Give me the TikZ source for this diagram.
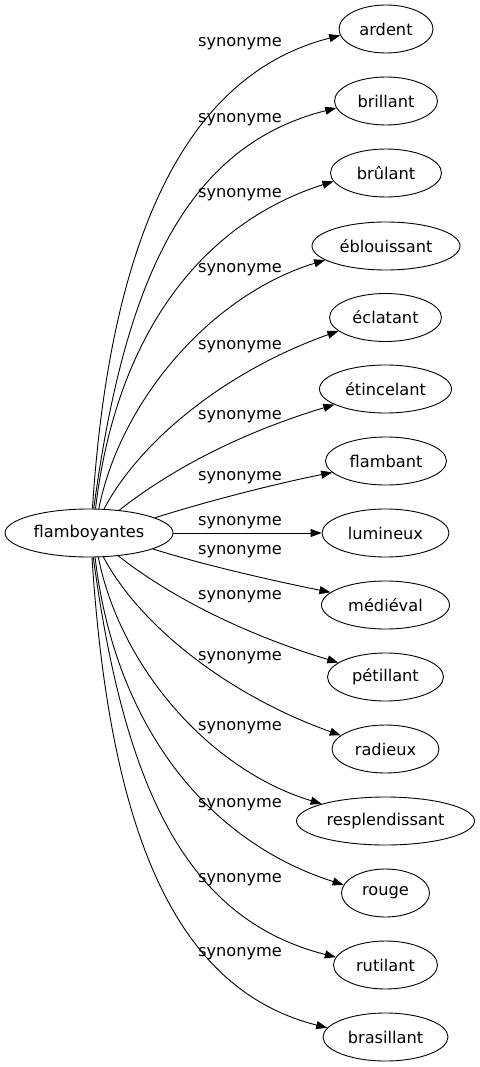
\documentclass[tikz,border=0pt]{standalone}
\usepackage{fontspec}
\setmainfont{DejaVu Sans}
\usetikzlibrary{shapes.geometric,arrows.meta}
\begin{document}
\begin{tikzpicture}[x=1pt,y=-1pt,
  every node/.style={font=\fontsize{16.2}{19}\selectfont},
  term/.style={ellipse, draw, line width=0.9pt, minimum height=48pt, inner sep=0pt},
  lbl/.style={inner sep=0pt},
  syn/.style={draw, line width=0.9pt, -{Triangle[length=11pt,width=8pt]}}]
\useasboundingbox (0,0) rectangle (479,1067);
% nodes
\node[term, minimum width=168pt] (flam) at (89,533) {flamboyantes};
\node[term, minimum width=94pt]  (n1)  at (386,29)   {ardent};
\node[term, minimum width=103pt] (n2)  at (386,101)  {brillant};
\node[term, minimum width=111pt] (n3)  at (386,173)  {brûlant};
\node[term, minimum width=148pt] (n4)  at (386,246)  {éblouissant};
\node[term, minimum width=112pt] (n5)  at (385.5,317.5) {éclatant};
\node[term, minimum width=132pt] (n6)  at (385.5,389) {étincelant};
\node[term, minimum width=121pt] (n7)  at (386,461)  {flambant};
\node[term, minimum width=127pt] (n8)  at (385.5,533) {lumineux};
\node[term, minimum width=128pt] (n9)  at (385.5,605) {médiéval};
\node[term, minimum width=116pt] (n10) at (385.5,677) {pétillant};
\node[term, minimum width=107pt] (n11) at (385.5,749) {radieux};
\node[term, minimum width=178pt] (n12) at (385.5,821) {resplendissant};
\node[term, minimum width=88pt]  (n13) at (385.5,893) {rouge};
\node[term, minimum width=104pt] (n14) at (385.5,965) {rutilant};
\node[term, minimum width=125pt] (n15) at (385.5,1037) {brasillant};
% labels
\node[lbl] (l1)  at (240,44)  {synonyme};
\node[lbl] (l2)  at (240,120) {synonyme};
\node[lbl] (l3)  at (240,195) {synonyme};
\node[lbl] (l4)  at (240,270) {synonyme};
\node[lbl] (l5)  at (240,347) {synonyme};
\node[lbl] (l6)  at (240,417) {synonyme};
\node[lbl] (l7)  at (240,478) {synonyme};
\node[lbl] (l8)  at (240,523) {synonyme};
\node[lbl] (l9)  at (240,552) {synonyme};
\node[lbl] (l10) at (240,597) {synonyme};
\node[lbl] (l11) at (240,658) {synonyme};
\node[lbl] (l12) at (240,728) {synonyme};
\node[lbl] (l13) at (240,805) {synonyme};
\node[lbl] (l14) at (240,880) {synonyme};
\node[lbl] (l15) at (240,954) {synonyme};
% edges (upper)
\draw[syn] (flam.82.7) .. controls +(18,-280) and +(-150,38) .. (n1.188.5);
\draw[syn] (flam.79.2) .. controls +(31,-230) and +(-150,38) .. (n2.188);
\draw[syn] (flam.75.7) .. controls +(20,-170) and +(-135,43) .. (n3.189);
\draw[syn] (flam.68.9) .. controls +(22,-110) and +(-112,34) .. (n4.193.7);
\draw[syn] (flam.58.9) .. controls +(37,-70) and +(-110,39) .. (n5.196);
\draw[syn] (flam.37.2) .. controls +(52,-41) and +(-93,28) .. (n6.197);
\draw[syn] (flam.13.4) .. controls +(47,-15) and +(-60,12) .. (n7.192.8);
% middle
\draw[syn] (flam.0) -- (n8.180);
% edges (lower)
\draw[syn] (flam.346.6) .. controls +(47,15) and +(-60,-12) .. (n9.167.5);
\draw[syn] (flam.322.8) .. controls +(52,41) and +(-93,-28) .. (n10.163.7);
\draw[syn] (flam.301.1) .. controls +(37,70) and +(-110,-39) .. (n11.163.5);
\draw[syn] (flam.291.1) .. controls +(22,110) and +(-112,-34) .. (n12.165);
\draw[syn] (flam.284.3) .. controls +(20,170) and +(-135,-43) .. (n13.169.6);
\draw[syn] (flam.280.8) .. controls +(31,230) and +(-150,-38) .. (n14.171);
\draw[syn] (flam.277.3) .. controls +(18,280) and +(-150,-38) .. (n15.171.5);
\end{tikzpicture}
\end{document}
